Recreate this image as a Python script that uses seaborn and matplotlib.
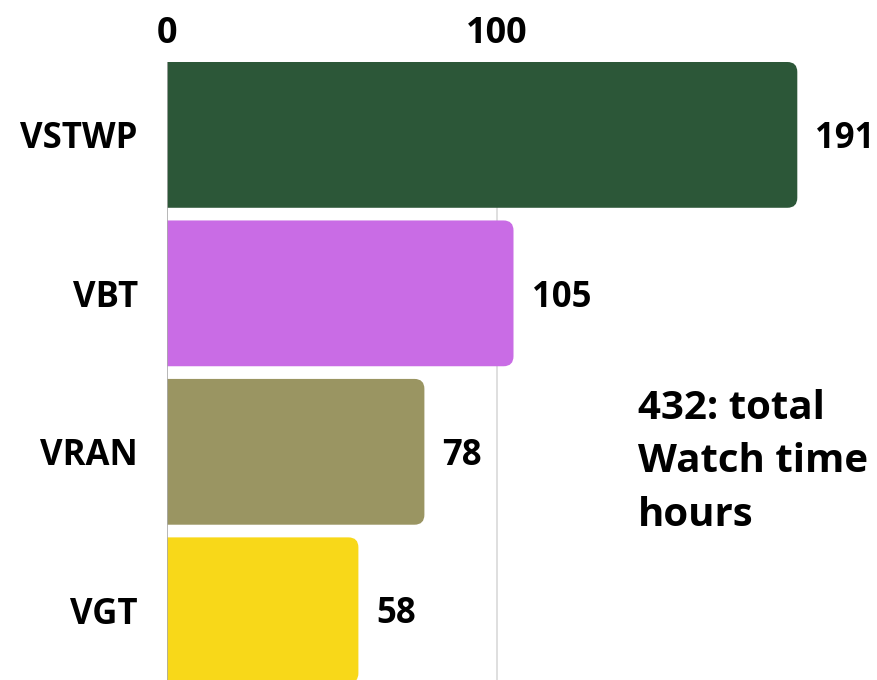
import matplotlib
matplotlib.use("Agg")
import matplotlib.pyplot as plt
from matplotlib.patches import FancyBboxPatch
import seaborn as sns
import pandas as pd

# data
channels = ["VSTWP", "VBT", "VRAN", "VGT"]
hours = [191, 105, 78, 58]
bar_colors = ["#2C5738", "#C96CE5", "#9A9562", "#F8D819"]
tick_vals = [0, 100]
note = "432: total\nWatch time\nhours"

df = pd.DataFrame({"channel": channels, "hours": hours})

sns.set_style("white")
plt.rcParams["font.family"] = ["Open Sans", "DejaVu Sans"]
plt.rcParams["text.color"] = "black"
plt.rcParams["xtick.color"] = "black"
plt.rcParams["ytick.color"] = "black"

fig = plt.figure(figsize=(8.77, 6.8), dpi=100)
ax = fig.add_axes([167 / 877, 0, 1 - 167 / 877, 618 / 680])

sns.barplot(data=df, x="hours", y="channel", hue="channel", palette=bar_colors,
            orient="h", width=0.92, legend=False, ax=ax, saturation=1)

ax.set_xlim(0, 710 / 3.3)
ax.set_ylim(3.44, -0.46)

# rounded right corners: swap each bar for a rounded box that starts left of 0
r = 3.0
asp = (10 / 158.5) / r
for p in list(ax.patches):
    x, y = p.get_x(), p.get_y()
    w, h = p.get_width(), p.get_height()
    box = FancyBboxPatch((x - 2 * r, y), w + 2 * r, h,
                         boxstyle=f"round,pad=0,rounding_size={r}",
                         mutation_aspect=asp, facecolor=p.get_facecolor(),
                         edgecolor="none", zorder=2)
    p.remove()
    ax.add_patch(box)

for i, v in enumerate(hours):
    ax.annotate(str(v), (v, i), xytext=(13, -3), textcoords="offset points",
                ha="left", va="center", fontsize=25, fontweight="bold", color="black")

ax.xaxis.tick_top()
ax.set_xticks(tick_vals)
ax.set_xticklabels([str(t) for t in tick_vals], fontsize=26, fontweight="bold")
ax.tick_params(axis="x", length=0, pad=7, colors="black")
ax.tick_params(axis="y", length=0, pad=21, labelsize=25, colors="black")
for lab in ax.get_yticklabels():
    lab.set_fontweight("bold")
ax.set_xlabel("")
ax.set_ylabel("")

for s in ["top", "right", "bottom", "left"]:
    ax.spines[s].set_visible(False)
ax.axvline(0, color="#aaaaaa", lw=1.2, zorder=3)
ax.axvline(100, color="#d9d9d9", lw=1.2, zorder=1)

fig.text(638 / 877, 1 - 462 / 680, note, ha="left", va="center", color="black",
         fontsize=29, fontweight="bold", linespacing=1.49)

fig.savefig("out.png", dpi=100)
